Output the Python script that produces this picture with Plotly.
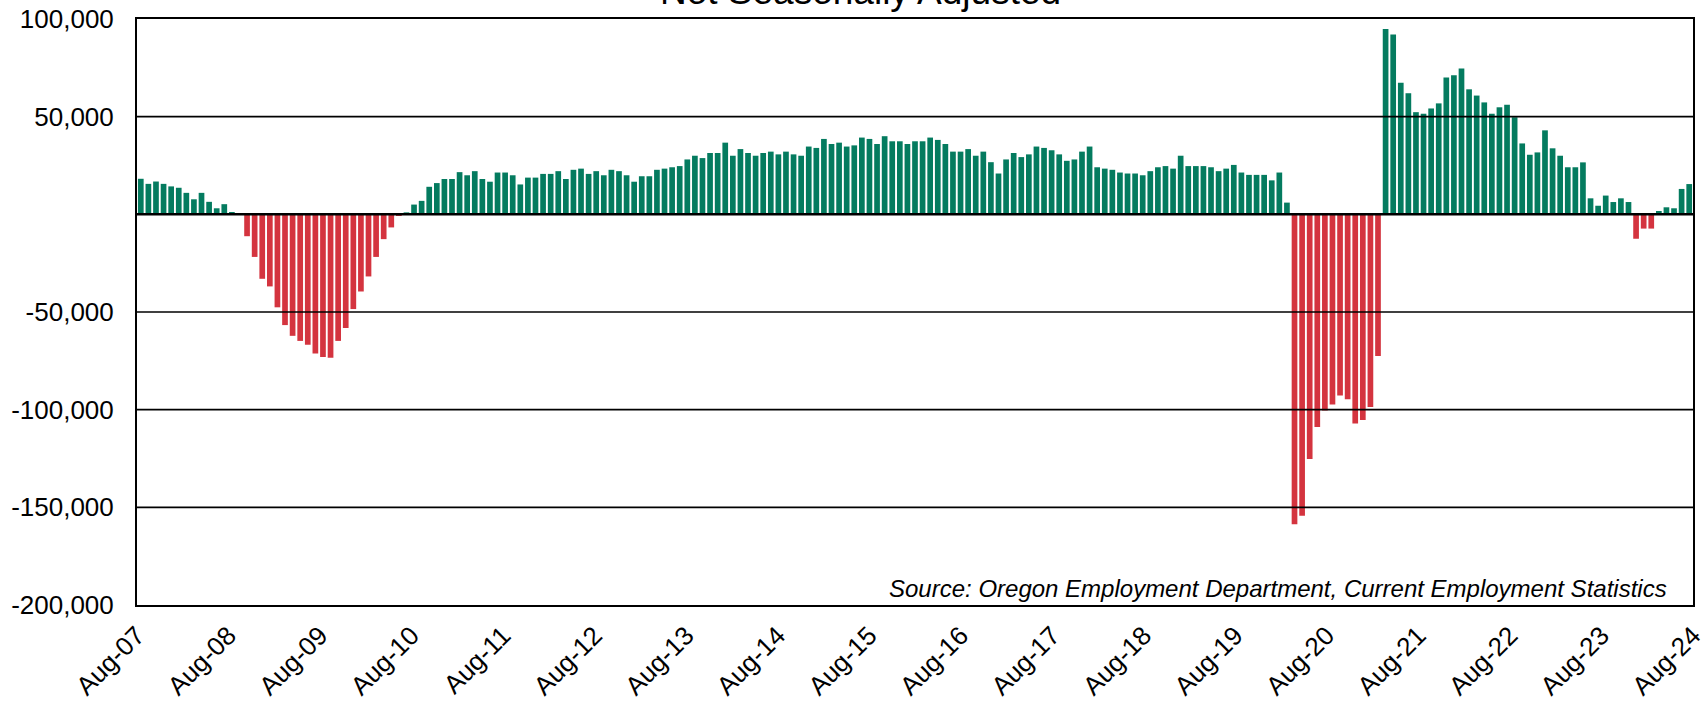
import numpy as np
import plotly.graph_objects as go

# Over-the-year change in Oregon nonfarm jobs, monthly Aug-07 .. Aug-24
change = [
    18200, 15600, 16800, 15600, 14300, 13600, 11000, 7700, 11000, 6400, 3100, 5200,
    1200, -300, -11200, -21800, -33000, -36900, -47600, -56700, -62200, -64800, -66800, -71300,
    -73000, -73400, -64800, -58200, -48500, -39500, -31800, -21800, -12700, -6700, -500, 1000,
    5000, 6900, 14100, 16000, 18100, 18100, 21600, 20000, 22100, 18100, 16700, 21400,
    21400, 20000, 15300, 18800, 18800, 20700, 20700, 22100, 18100, 22800, 23400, 20700,
    22100, 20000, 22800, 22100, 20000, 16700, 19500, 19500, 22800, 23400, 24100, 24700,
    28100, 30000, 28800, 31400, 31400, 36700, 30000, 33400, 31400, 30000, 31400, 32100,
    30700, 32100, 30700, 30000, 34700, 34000, 38600, 36000, 36700, 34700, 35300, 39300,
    38600, 36000, 40000, 37400, 37400, 36000, 37400, 37400, 39300, 38100, 36000, 32100,
    32100, 33400, 30000, 32100, 26700, 20900, 28100, 31400, 29300, 30700, 34700, 34000,
    32800, 30700, 27400, 28100, 32100, 34700, 24100, 23400, 22800, 21400, 20900, 20900,
    20000, 22100, 24100, 24700, 23400, 30000, 24700, 24700, 24700, 24100, 22100, 23400,
    25300, 21400, 20200, 20200, 20200, 17400, 21400, 6000, -158600, -154300, -125300, -108900,
    -100400, -97400, -92700, -94700, -107100, -105300, -98600, -72500, 94900, 92100, 67300, 62000,
    52300, 51500, 54200, 56800, 70000, 71200, 74600, 64000, 60800, 57300, 51500, 54800,
    56100, 49700, 36300, 30500, 31700, 43000, 33800, 30000, 24100, 24100, 26600, 8200,
    4400, 9600, 6300, 8200, 6300, -12500, -7300, -7300, 1700, 3600, 3100, 13000,
    15500,
]

year_labels = ["Aug-07", "Aug-08", "Aug-09", "Aug-10", "Aug-11", "Aug-12", "Aug-13",
               "Aug-14", "Aug-15", "Aug-16", "Aug-17", "Aug-18", "Aug-19", "Aug-20",
               "Aug-21", "Aug-22", "Aug-23", "Aug-24"]

y_ticks = [100000, 50000, 0, -50000, -100000, -150000, -200000]
y_labels = ["100,000", "50,000", "", "-50,000", "-100,000", "-150,000", "-200,000"]

GREEN = "#047B5F"
RED = "#D4343F"
FONT = "Liberation Sans, Arial, sans-serif"

n = len(change)
x = np.arange(n)
colors = [GREEN if v >= 0 else RED for v in change]

fig = go.Figure(go.Bar(
    x=x, y=change,
    marker_color=colors,
    marker_line_width=0,
    hovertemplate="%{y:,}<extra></extra>",
))

# horizontal rules drawn over the bars, like the original
for v in y_ticks[1:-1]:
    fig.add_hline(y=v, line_color="black", line_width=2.5 if v == 0 else 1.6, layer="above")

# year labels run evenly from the left edge of the frame to the right edge
step = n / (len(year_labels) - 1)
x_ticks = [round(-0.5 + k * step, 4) for k in range(len(year_labels))]
fig.update_xaxes(
    range=[-0.5, n - 0.5],
    tickmode="array",
    tickvals=x_ticks,
    ticktext=year_labels,
    tickangle=-45,
    tickfont=dict(size=26, color="black"),
    ticklabeloverflow="allow",
    showgrid=False, zeroline=False,
    showline=True, mirror=True, linecolor="black", linewidth=2,
    ticks="", ticklabelstandoff=3, automargin=False,
)
fig.update_yaxes(
    range=[-200000, 100000],
    tickmode="array",
    tickvals=y_ticks,
    ticktext=y_labels,
    tickfont=dict(size=26, color="black"),
    showgrid=False, zeroline=False,
    showline=True, mirror=True, linecolor="black", linewidth=2,
    ticks="", ticklabelstandoff=16, automargin=False,
)

fig.add_annotation(
    text="Not Seasonally Adjusted",
    xref="paper", yref="paper", x=0.465, y=1,
    xanchor="center", yanchor="bottom", yshift=5,
    showarrow=False, font=dict(size=37, color="black", family=FONT),
)
fig.add_annotation(
    text="Source: Oregon Employment Department, Current Employment Statistics",
    xref="paper", yref="paper", x=1, y=0,
    xanchor="right", yanchor="bottom", xshift=-24, yshift=1,
    showarrow=False, font=dict(size=24, color="black", family=FONT, style="italic"),
)

fig.update_layout(
    width=1706, height=703,
    margin=dict(l=137, r=13, t=19, b=98),
    bargap=0.25,
    showlegend=False,
    plot_bgcolor="white",
    paper_bgcolor="white",
    font=dict(family=FONT, color="black"),
)

# the page's default body margin would shift the figure by 8px
fig.write_html(
    "out.html",
    config={"displayModeBar": False},
    post_script="document.body.style.margin='0';",
)
